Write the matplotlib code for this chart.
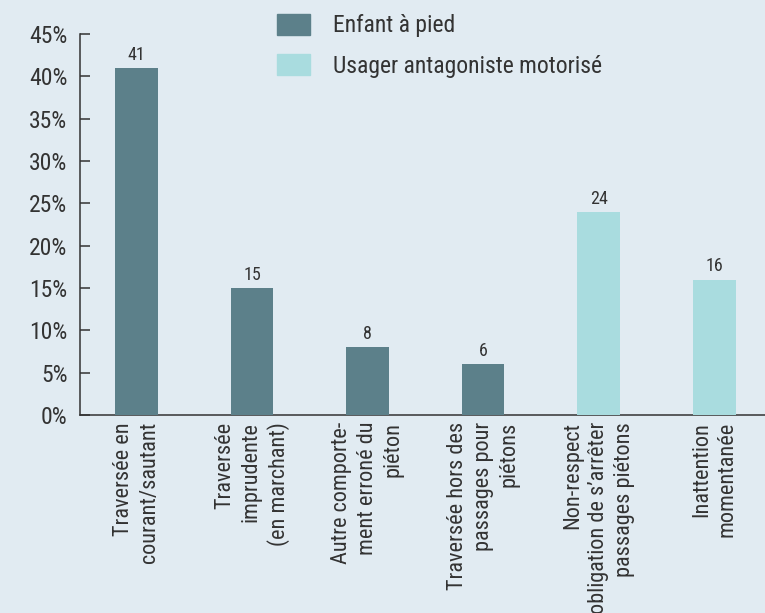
import matplotlib
matplotlib.use("Agg")
import matplotlib.pyplot as plt
from matplotlib import font_manager

categories = [
    "Traversée en\ncourant/sautant",
    "Traversée\nimprudente\n(en marchant)",
    "Autre comporte-\nment erroné du\npiéton",
    "Traversée hors des\npassages pour\npiétons",
    "Non-respect\nobligation de s\u2019arrêter\npassages piétons",
    "Inattention\nmomentanée",
]
values = [41, 15, 8, 6, 24, 16]
groups = ["Enfant à pied", "Enfant à pied", "Enfant à pied", "Enfant à pied",
          "Usager antagoniste motorisé", "Usager antagoniste motorisé"]
series_names = ["Enfant à pied", "Usager antagoniste motorisé"]
yticks = [0, 5, 10, 15, 20, 25, 30, 35, 40, 45]

COLORS = {"Enfant à pied": "#5c808a", "Usager antagoniste motorisé": "#a9dcdf"}
BG = "#e1ebf2"
INK = "#333333"

# narrow face like the original, if one is around
names = {f.name for f in font_manager.fontManager.ttflist}
FONT = next((n for n in ["Roboto Condensed", "PT Sans Narrow", "Open Sans Condensed",
                         "Archivo Narrow", "Liberation Sans Narrow"] if n in names),
            "DejaVu Sans")
plt.rcParams["font.family"] = [FONT, "DejaVu Sans"]

fig = plt.figure(figsize=(7.65, 6.13), dpi=100, facecolor=BG)
ax = fig.add_axes([80 / 765, 1 - 415 / 613, 685 / 765, (415 - 34) / 613])
ax.set_facecolor(BG)

x = list(range(len(categories)))
bars = ax.bar(x, values, width=0.37, color=[COLORS[g] for g in groups], zorder=3)
for rect, v in zip(bars, values):
    ax.annotate(str(v), (rect.get_x() + rect.get_width() / 2, v),
                xytext=(0, 3), textcoords="offset points",
                ha="center", va="bottom", fontsize=13, color=INK)

ax.set_xlim(-0.489, 5.44)
ax.set_ylim(0, 45)
ax.set_yticks(yticks)
ax.set_yticklabels([f"{t}%" for t in yticks], fontsize=17, color=INK)
ax.tick_params(axis="y", direction="in", length=7.5, width=1.1, pad=9, colors=INK)
ax.set_xticks(x)
ax.set_xticklabels(categories, rotation=90, ha="center", va="top",
                   multialignment="right", fontsize=16, color=INK,
                   linespacing=1.3)
ax.tick_params(axis="x", length=0, pad=5)

for side in ("top", "right"):
    ax.spines[side].set_visible(False)
for side in ("left", "bottom"):
    ax.spines[side].set_color(INK)
    ax.spines[side].set_linewidth(1.1)
    ax.spines[side].set_zorder(2)

handles = [plt.Rectangle((0, 0), 1, 1, color=COLORS[s]) for s in series_names]
ax.legend(handles, series_names, loc="upper left",
          bbox_to_anchor=(265 / 765, 1 - 2 / 613), bbox_transform=fig.transFigure,
          frameon=False, fontsize=17, handlelength=1.4, handleheight=1.0,
          handletextpad=1.0, labelspacing=0.7, borderpad=0, labelcolor=INK)

fig.savefig("out.png", dpi=100, facecolor=BG)
